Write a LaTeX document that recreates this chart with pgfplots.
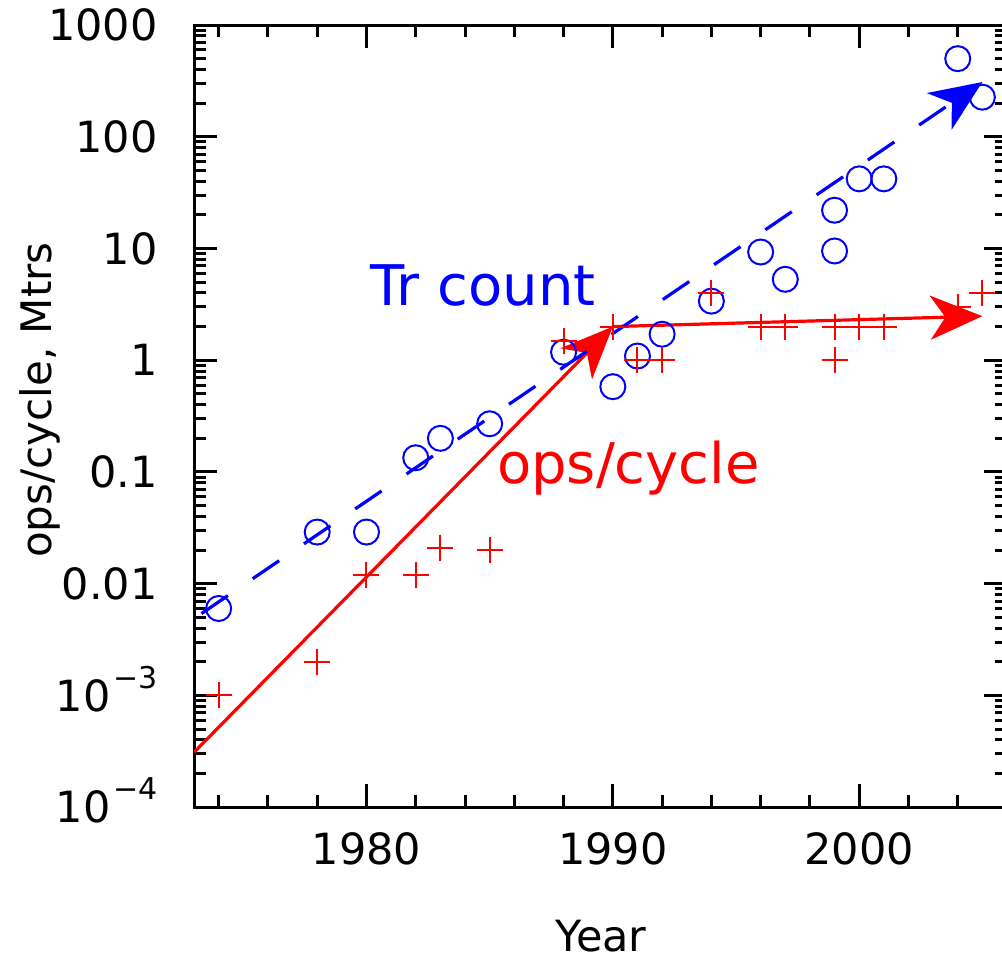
\documentclass[border=0pt]{standalone}
\usepackage{fontspec}
\setmainfont{DejaVu Sans}
\usepackage{pgfplots}
\pgfplotsset{compat=1.18}
\usetikzlibrary{arrows.meta}
\definecolor{trblue}{RGB}{0,0,255}
\definecolor{opred}{RGB}{255,0,0}
\newcommand{\lblfont}{\fontsize{21.5}{21.5}\selectfont}
\newcommand{\expo}[1]{10\hspace{1.5pt}\smash{\raisebox{11.5pt}{\fontsize{15}{15}\selectfont −#1}}\hspace{-6pt}}
\tikzset{bigtip/.style={-{Stealth[length=26pt,width=22pt,inset=7.5pt]}}}

\begin{document}
\begin{tikzpicture}
\begin{axis}[
  scale only axis, width=406.4pt, height=391pt,
  ymode=log,
  xmin=1973, xmax=2006, ymin=1e-4, ymax=1000,
  xtick={1980,1990,2000}, xticklabels={1980,1990,2000},
  minor xtick={1974,1976,...,2006},
  ytick={1e-4,1e-3,0.01,0.1,1,10,100,1000},
  yticklabels={{\expo{4}},{\expo{3}},0.01,0.1,1,10,100,1000},
  minor ytick={2e-4,3e-4,4e-4,5e-4,6e-4,7e-4,8e-4,9e-4,
    2e-3,3e-3,4e-3,5e-3,6e-3,7e-3,8e-3,9e-3,
    0.02,0.03,0.04,0.05,0.06,0.07,0.08,0.09,
    0.2,0.3,0.4,0.5,0.6,0.7,0.8,0.9,
    2,3,4,5,6,7,8,9,20,30,40,50,60,70,80,90,
    200,300,400,500,600,700,800,900},
  tick align=inside, tick pos=both,
  major tick length=11.5pt, minor tick length=6pt,
  axis line style={line width=1.5pt},
  tick style={black, line width=1.5pt},
  xticklabel style={font=\lblfont, inner sep=0pt, anchor=north, yshift=-12.5pt},
  yticklabel style={font=\lblfont, inner sep=0pt, anchor=east, xshift=-18pt},
  xlabel={Year}, ylabel={ops/cycle, Mtrs},
  xlabel style={font=\lblfont, at={(rel axis cs:0.5007,-0.165)}, anchor=center},
  ylabel style={font=\fontsize{21}{21}\selectfont, at={(rel axis cs:-0.1895,0.5205)}, anchor=center},
]
% transistor count (Mtrs)
\addplot[only marks, mark=o, mark size=6.25pt, trblue, line width=1pt] coordinates {
  (1974,0.006) (1978,0.029) (1980,0.029) (1982,0.134) (1983,0.2)
  (1985,0.27) (1988,1.18) (1990,0.58) (1991,1.09) (1992,1.71)
  (1994,3.38) (1996,9.3) (1997,5.3) (1999,9.5) (1999,22)
  (2000,42) (2001,42) (2004,500) (2005,226)
};
% ops per cycle
\addplot[only marks, mark=+, mark size=6.5pt, opred, line width=1pt] coordinates {
  (1974,0.001) (1978,0.002) (1980,0.012) (1982,0.012) (1983,0.021)
  (1985,0.02) (1988,1.5) (1990,2) (1991,1) (1992,1)
  (1994,4) (1996,2) (1997,2) (1999,2) (1999,1)
  (2000,2) (2001,2) (2004,3) (2005,4)
};
% trend lines
\addplot[opred, line width=1.6pt, bigtip] coordinates {(1973,3.1e-4) (1990,2.0)};
\addplot[opred, line width=1.6pt, bigtip] coordinates {(1990,2.0) (2005,2.48)};
\addplot[trblue, line width=1.6pt, dash pattern=on 16pt off 15pt, bigtip]
  coordinates {(1973.3,0.0054) (2005,309)};
\node[trblue, font=\fontsize{28}{28}\selectfont, anchor=base] at (axis cs:1984.74,3.11) {Tr count};
\node[opred, font=\fontsize{28}{28}\selectfont, anchor=base] at (axis cs:1990.63,0.0794) {ops/cycle};
\coordinate (bl) at (rel axis cs:0,0);
\coordinate (tr) at (rel axis cs:1,1);
\end{axis}
\pgfresetboundingbox
\useasboundingbox ([shift={(-97pt,-76.5pt)}]bl) rectangle ([shift={(-2.5pt,12.5pt)}]tr);
\end{tikzpicture}
\end{document}
